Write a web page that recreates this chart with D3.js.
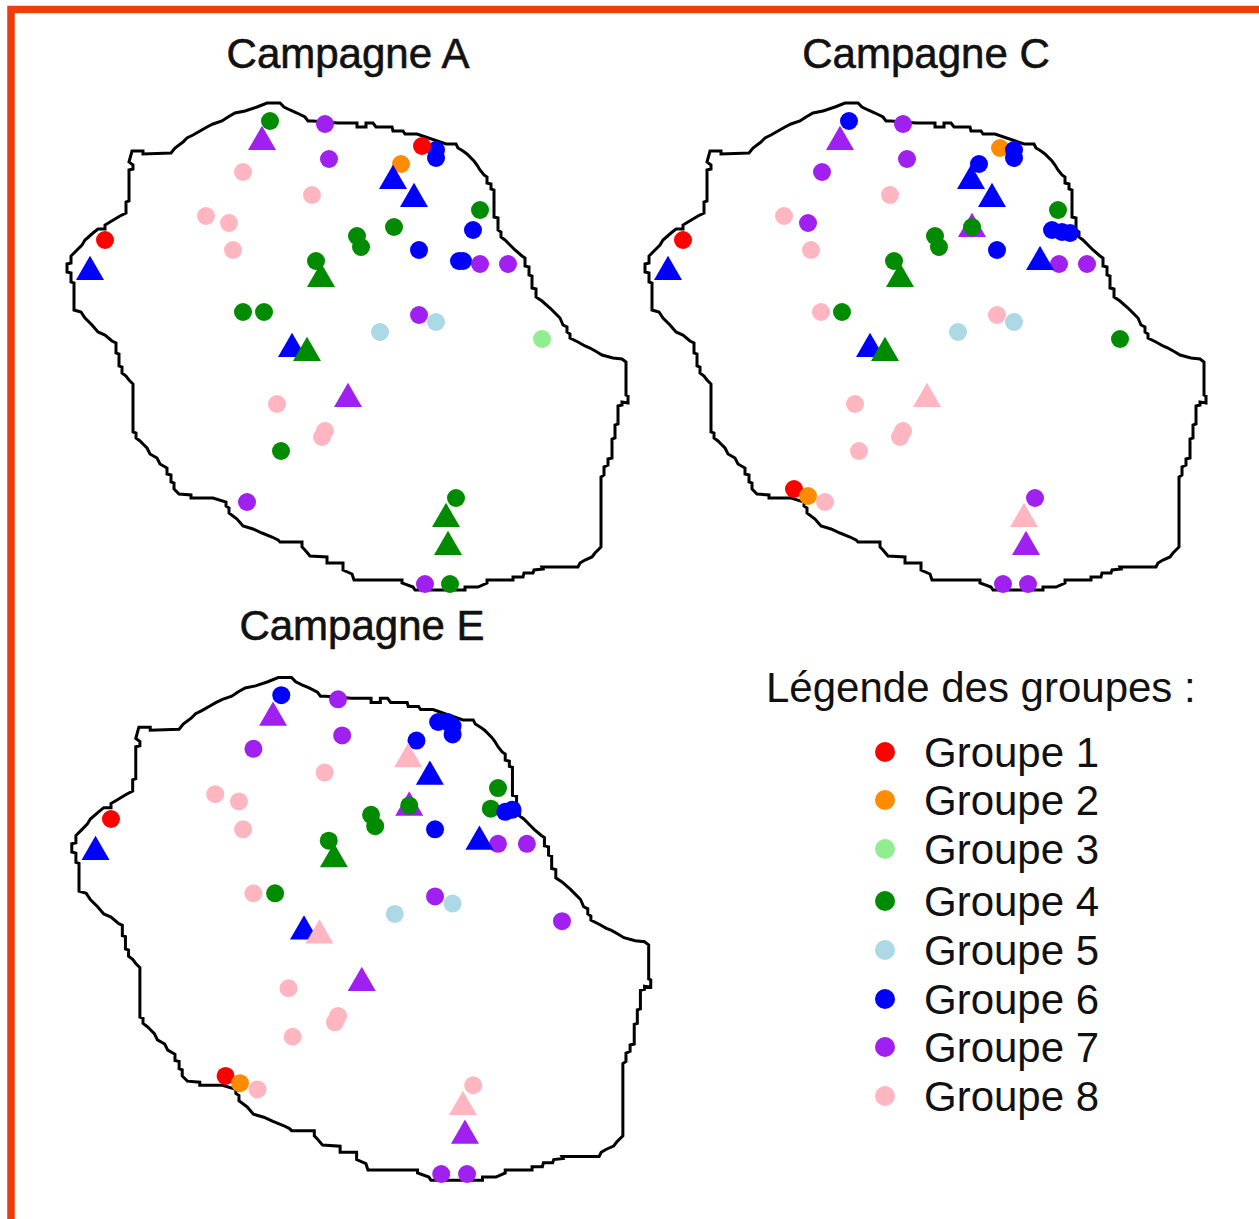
<!DOCTYPE html>
<html>
<head>
<meta charset="utf-8">
<script src="https://cdn.jsdelivr.net/npm/d3@7"></script>
<style>
html, body { margin: 0; padding: 0; background: #fff; }
svg { display: block; }
text { font-family: "Liberation Sans", Arial, sans-serif; fill: #111; }
</style>
</head>
<body>
<svg width="1259" height="1219"></svg>
<script>
// island outline, map units
var outline = [[274,103],[267,103],[257,107],[245,111],[235,113],[228,117],[222,121],[213,124],[207,127],[200,131],[193,135],[187,138],[183,142],[175,148],[171,153],[143,154],[143,151],[132,151],[129,162],[133,165],[133,169],[129,170],[129,201],[126,202],[126,213],[120,216],[110,222],[105,225],[105,229],[98,229],[93,233],[85,240],[82,245],[77,250],[71,256],[71,263],[67,264],[67,272],[71,273],[71,282],[74,283],[74,310],[81,312],[85,318],[92,325],[98,332],[105,335],[112,341],[116,343],[116,353],[119,354],[119,366],[122,367],[122,373],[126,376],[129,380],[133,384],[133,432],[136,433],[136,438],[140,441],[143,444],[147,448],[150,454],[157,458],[160,464],[167,468],[167,474],[171,475],[171,482],[174,483],[174,489],[179,494],[191,495],[191,498],[213,498],[226,502],[226,506],[229,508],[229,513],[237,519],[243,526],[253,529],[262,533],[272,537],[278,540],[280,542],[302,542],[302,547],[305,550],[310,556],[327,557],[327,563],[343,563],[343,570],[352,574],[354,580],[402,580],[402,583],[413,587],[415,590],[465,590],[465,587],[478,587],[487,583],[487,580],[513,580],[513,577],[523,577],[524,573],[533,573],[534,570],[543,569],[542,567],[578,567],[580,563],[585,560],[592,557],[595,553],[601,547],[601,477],[604,475],[604,467],[608,465],[608,459],[612,458],[612,439],[615,438],[615,425],[618,424],[618,406],[622,405],[622,402],[628,403],[628,396],[626,395],[626,362],[622,359],[613,358],[602,355],[597,352],[590,348],[585,346],[578,342],[570,338],[570,334],[567,332],[567,327],[563,325],[560,318],[557,315],[550,308],[542,301],[536,297],[536,289],[532,288],[532,276],[529,275],[529,267],[525,266],[525,258],[522,256],[515,250],[512,247],[505,240],[501,237],[501,232],[498,230],[498,218],[494,217],[494,190],[491,189],[491,184],[487,183],[487,177],[484,175],[480,170],[477,165],[474,161],[467,154],[463,151],[458,148],[456,144],[446,144],[417,134],[405,134],[403,131],[393,131],[392,127],[376,127],[373,123],[366,123],[366,127],[357,127],[357,123],[338,123],[313,121],[308,121],[305,117],[297,113],[290,110],[284,107],[280,103]];

var groupNames = ["Groupe 1","Groupe 2","Groupe 3","Groupe 4","Groupe 5","Groupe 6","Groupe 7","Groupe 8"];
var groupColors = ["#ff0000","#ff8c00","#90ee90","#008b00","#add8e6","#0000ff","#a020f0","#ffb6c1"];
var legendRows = [752,800,849,901,950,999,1047,1096];

// [x, y, groupe]
var circlesA = [[270,121,4],[325,124,7],[329,159,7],[243,172,8],[312,195,8],[206,216,8],[229,223,8],[233,250,8],[105,240,1],[436,150,6],[436,158,6],[401,164,2],[422,146,1],[480,210,4],[473,230,6],[394,227,4],[357,236,4],[361,247,4],[419,250,6],[316,261,4],[459,261,6],[463,261,6],[480,264,7],[508,264,7],[243,312,4],[264,312,4],[419,315,7],[436,322,5],[380,332,5],[542,339,3],[277,404,8],[325,431,8],[322,437,8],[281,451,4],[247,502,7],[456,498,4],[425,584,7],[450,584,4]];
var trianglesA = [[262,139,7],[393,178,6],[414,196,6],[90,269,6],[321,276,4],[292,346,6],[307,350,4],[348,396,7],[446,516,4],[448,544,4]];

var circlesC = [[271,121,6],[325,124,7],[329,159,7],[244,172,7],[312,195,8],[206,216,8],[230,223,7],[233,250,8],[105,240,1],[422,148,2],[436,150,6],[436,158,6],[401,164,6],[480,210,4],[474,230,6],[484,232,6],[492,233,6],[394,227,4],[357,236,4],[361,247,4],[419,250,6],[316,261,4],[481,264,7],[509,264,7],[243,312,8],[264,312,4],[419,315,8],[436,322,5],[380,332,5],[542,339,4],[277,404,8],[325,431,8],[322,437,8],[281,451,8],[216,489,1],[230,496,2],[247,502,8],[457,498,7],[425,584,7],[450,584,7]];
var trianglesC = [[262,139,7],[393,178,6],[414,196,6],[90,269,6],[322,276,4],[292,346,6],[307,350,4],[349,396,8],[446,516,8],[448,544,7],[462,259,6],[394,226,7]];

var circlesE = [[270,120,6],[325,124,7],[329,159,7],[243,172,7],[312,195,8],[206,216,8],[229,223,8],[233,250,8],[105,240,1],[401,164,6],[422,146,6],[431,146,6],[436,150,6],[436,158,6],[480,210,4],[473,230,4],[487,233,6],[494,231,6],[394,227,4],[357,236,4],[361,247,4],[419,250,6],[316,261,4],[480,264,7],[508,264,7],[243,312,8],[264,312,4],[419,315,7],[436,322,5],[380,332,5],[542,339,7],[277,404,8],[325,431,8],[322,437,8],[281,451,8],[216,489,1],[230,496,2],[247,502,8],[456,498,8],[425,584,7],[450,584,7]];
var trianglesE = [[262,139,7],[393,179,8],[414,196,6],[90,269,6],[321,276,4],[292,346,6],[307,350,8],[348,396,7],[446,516,8],[448,544,7],[462,259,6],[394,226,7]];

var panels = [
    {title: "Campagne A", titleX: 348, titleY: 68, circles: circlesA, triangles: trianglesA, dx: 0, dy: 0, k: 1},
    {title: "Campagne C", titleX: 926, titleY: 68, circles: circlesC, triangles: trianglesC, dx: 578, dy: 0, k: 1},
    {title: "Campagne E", titleX: 362, titleY: 640, circles: circlesE, triangles: trianglesE, dx: 6, dy: 579, k: 1.032}
];

var svg = d3.select("svg");

// frame
svg.append("path")
    .attr("d", "M11,1219V9.5H1259")
    .attr("fill", "none")
    .attr("stroke", "#ee3d0c")
    .attr("stroke-width", 7.5);

var triangle = d3.symbol().type(d3.symbolTriangle).size(340);
var line = d3.line();

panels.forEach(function(p) {
    // anchor of the scale is the red point on the west coast
    var x = d3.scaleLinear().domain([105, 628]).range([105 + p.dx, 105 + p.dx + 523 * p.k]),
        y = d3.scaleLinear().domain([240, 590]).range([240 + p.dy, 240 + p.dy + 350 * p.k]);

    var g = svg.append("g");

    g.append("path")
        .attr("d", line.x(function(d) { return x(d[0]); }).y(function(d) { return y(d[1]); })(outline.concat([outline[0]])))
        .attr("fill", "none")
        .attr("stroke", "#000")
        .attr("stroke-width", 3);

    var drawTriangles = function(keep) {
        g.selectAll(null)
            .data(p.triangles.filter(keep))
            .enter().append("path")
            .attr("d", triangle)
            .attr("transform", function(d) { return "translate(" + x(d[0]) + "," + (y(d[1]) + 3) + ")"; })
            .attr("fill", function(d) { return groupColors[d[2] - 1]; });
    };

    // purple triangles sit under the points, the others on top
    drawTriangles(function(d) { return d[2] == 7; });
    g.selectAll("circle")
        .data(p.circles)
        .enter().append("circle")
        .attr("cx", function(d) { return x(d[0]); })
        .attr("cy", function(d) { return y(d[1]); })
        .attr("r", 9)
        .attr("fill", function(d) { return groupColors[d[2] - 1]; });
    drawTriangles(function(d) { return d[2] == 6; });
    drawTriangles(function(d) { return d[2] != 6 && d[2] != 7; });

    g.append("text")
        .attr("x", p.titleX)
        .attr("y", p.titleY)
        .attr("text-anchor", "middle")
        .attr("font-size", 42)
        .attr("stroke", "#111")
        .attr("stroke-width", 0.6)
        .text(p.title);
});

// legend
svg.append("text")
    .attr("x", 766)
    .attr("y", 702)
    .attr("font-size", 42)
    .text("Légende des groupes :");

var row = svg.selectAll(".legend")
    .data(groupNames)
    .enter().append("g")
    .attr("class", "legend")
    .attr("transform", function(d, i) { return "translate(885," + legendRows[i] + ")"; });

row.append("circle")
    .attr("r", 10)
    .attr("fill", function(d, i) { return groupColors[i]; });

row.append("text")
    .attr("x", 39)
    .attr("y", 15)
    .attr("font-size", 42)
    .text(function(d) { return d; });
</script>
</body>
</html>
